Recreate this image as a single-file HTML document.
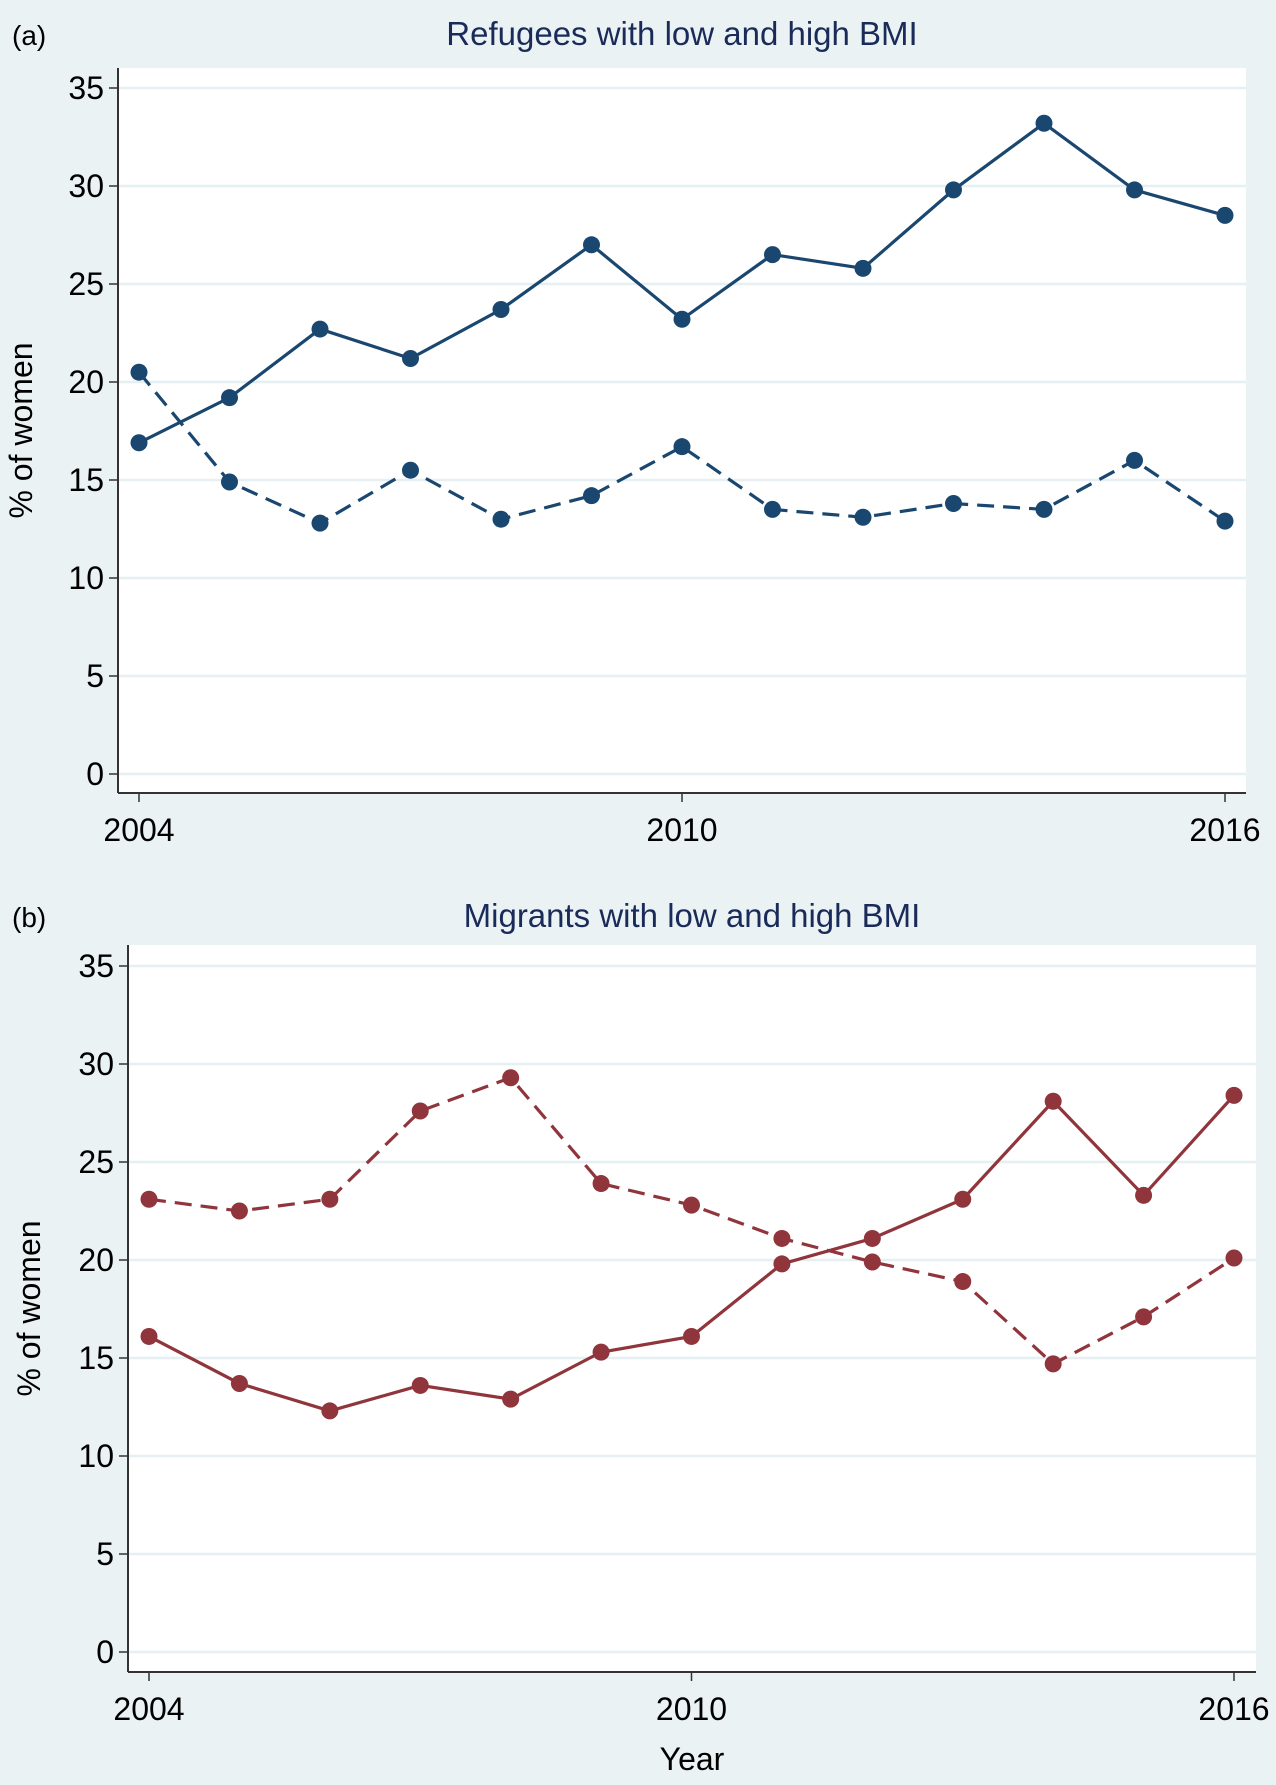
<!DOCTYPE html>
<html><head><meta charset="utf-8"><style>
html,body{margin:0;padding:0;background:#eaf2f3;}
svg{display:block;font-family:"Liberation Sans",Arial,sans-serif;}
</style></head><body>
<svg id="chart" width="1276" height="1785" viewBox="0 0 1276 1785"></svg>
<script>
const years=[2004,2005,2006,2007,2008,2009,2010,2011,2012,2013,2014,2015,2016];
const xTickLabels=[2004,2010,2016];
const yTickLabels=[0,5,10,15,20,25,30,35];
const refugeesHigh=[16.9,19.2,22.7,21.2,23.7,27.0,23.2,26.5,25.8,29.8,33.2,29.8,28.5];
const refugeesLow=[20.5,14.9,12.8,15.5,13.0,14.2,16.7,13.5,13.1,13.8,13.5,16.0,12.9];
const migrantsHigh=[16.1,13.7,12.3,13.6,12.9,15.3,16.1,19.8,21.1,23.1,28.1,23.3,28.4];
const migrantsLow=[23.1,22.5,23.1,27.6,29.3,23.9,22.8,21.1,19.9,18.9,14.7,17.1,20.1];

const NS="http://www.w3.org/2000/svg";
const svg=document.getElementById('chart');
function mk(tag,attrs,parent){const e=document.createElementNS(NS,tag);for(const k in attrs)e.setAttribute(k,attrs[k]);(parent||svg).appendChild(e);return e;}

function panel(cfg){
  const g=mk('g',{});
  
  
  const xS=v=>cfg.x0+(v-2004)*(cfg.x1-cfg.x0)/12;
  const yS=v=>cfg.y0-v*(cfg.y0-cfg.y35)/35;
  const bg=mk('rect',{x:cfg.left,y:cfg.top,width:cfg.right-cfg.left,height:cfg.bottom-cfg.top,fill:'#ffffff'},g);
  
  
  yTickLabels.forEach(t=>{
    const y=yS(t);
    const gl=mk('line',{x1:cfg.left,x2:cfg.right,y1:y,y2:y,stroke:'#e6eff1','stroke-width':2.5},g);
    
    
    mk('line',{x1:cfg.left-9,x2:cfg.left,y1:y,y2:y,stroke:'#333','stroke-width':1.5},g);
    const tx=mk('text',{x:cfg.left-14,y:y+11,'text-anchor':'end','font-size':32,fill:'#000'},g);
    tx.textContent=t;
    
    
  });
  xTickLabels.forEach(t=>{
    const x=xS(t);
    mk('line',{x1:x,x2:x,y1:cfg.bottom,y2:cfg.bottom+9,stroke:'#333','stroke-width':1.5},g);
    const tx=mk('text',{x:x,y:cfg.bottom+48,'text-anchor':'middle','font-size':32,fill:'#000'},g);
    tx.textContent=t;
    
    
  });
  mk('line',{x1:cfg.left,x2:cfg.left,y1:cfg.top,y2:cfg.bottom,stroke:'#333','stroke-width':2},g);
  mk('line',{x1:cfg.left,x2:cfg.right,y1:cfg.bottom,y2:cfg.bottom,stroke:'#333','stroke-width':2},g);
  const title=mk('text',{x:(cfg.left+cfg.right)/2,y:cfg.titleY,'text-anchor':'middle','font-size':33,fill:'#1a2b5a'},g);
  title.textContent=cfg.title;
  
  
  const lab=mk('text',{x:12,y:cfg.titleY,'font-size':28,fill:'#000'},g);
  lab.textContent=cfg.label;
  
  
  const yt=mk('text',{x:0,y:0,'text-anchor':'middle','font-size':32,fill:'#000',transform:`translate(${cfg.yTitleX},${(cfg.top+cfg.bottom)/2}) rotate(-90)`},g);
  yt.textContent='% of women';
  
  
  [[cfg.high,null,'high-bmi-line'],[cfg.low,'17,9','low-bmi-line']].forEach(([vals,dash,nm])=>{
    const pts=vals.map((v,i)=>xS(years[i])+','+yS(v)).join(' ');
    const a={points:pts,fill:'none',stroke:cfg.color,'stroke-width':3.2};
    if(dash)a['stroke-dasharray']=dash;
    const pl=mk('polyline',a,g);
    
    
    vals.forEach((v,i)=>{
      const c=mk('circle',{cx:xS(years[i]),cy:yS(v),r:8.5,fill:cfg.color},g);
      
      
    });
  });
}
panel({name:'panel-refugees',label:'(a)',title:'Refugees with low and high BMI',titleY:45,
  left:118,right:1246,top:68,bottom:793,x0:139,x1:1225,y0:774,y35:88,yTitleX:32,
  color:'#1a476f',high:refugeesHigh,low:refugeesLow});
panel({name:'panel-migrants',label:'(b)',title:'Migrants with low and high BMI',titleY:927,
  left:128,right:1256,top:945,bottom:1672,x0:149,x1:1234,y0:1652,y35:966,yTitleX:40,
  color:'#90353b',high:migrantsHigh,low:migrantsLow});
const xt=mk('text',{x:692,y:1770,'text-anchor':'middle','font-size':32,fill:'#000'});
xt.textContent='Year';


</script>
</body></html>
